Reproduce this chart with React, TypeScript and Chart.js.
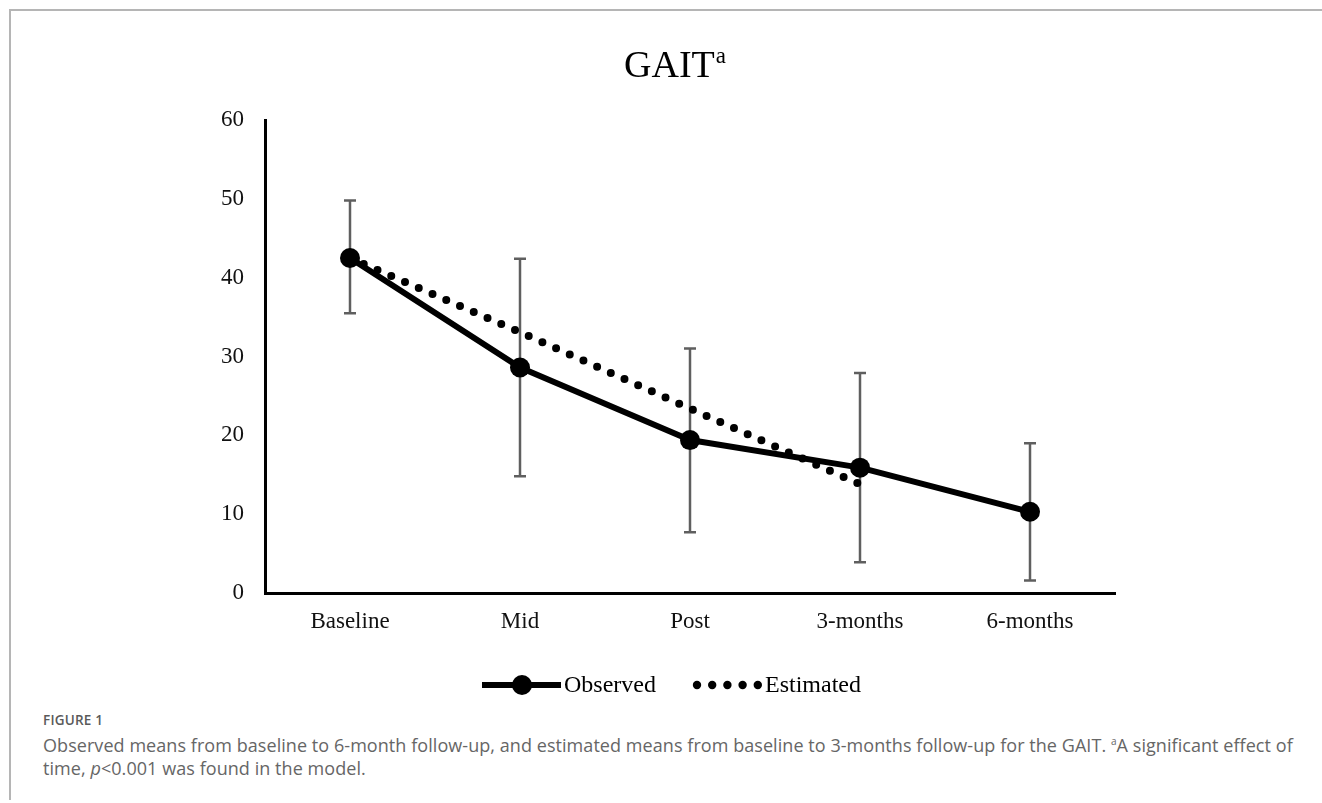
import React, { useEffect, useRef } from "react";
import { Chart, registerables } from "chart.js";

Chart.register(...registerables);

const categories = ["Baseline", "Mid", "Post", "3-months", "6-months"];
const observed = [42.5, 28.6, 19.4, 15.9, 10.3];
const observedHigh = [49.8, 42.4, 31.0, 27.9, 19.0];
const observedLow = [35.5, 14.8, 7.7, 3.9, 1.6];
const estimated: (number | null)[] = [42.5, 33.1, 23.4, 13.8, null];
const yMin = 0;
const yMax = 60;
const yStep = 10;
const titleMain = "GAIT";
const titleSup = "a";

const SERIF = '"Liberation Serif", "Times New Roman", serif';

const errorBarPlugin = {
  id: "errorBars",
  beforeDatasetsDraw(chart: any) {
    const { ctx, scales } = chart;
    const xs = scales.x;
    const ys = scales.y;
    ctx.save();
    ctx.strokeStyle = "#5f5f5f";
    ctx.lineWidth = 2.5;
    observed.forEach((_, i) => {
      const x = xs.getPixelForValue(i);
      const yt = ys.getPixelForValue(observedHigh[i]);
      const yb = ys.getPixelForValue(observedLow[i]);
      ctx.beginPath();
      ctx.moveTo(x, yt);
      ctx.lineTo(x, yb);
      ctx.moveTo(x - 6, yt);
      ctx.lineTo(x + 6, yt);
      ctx.moveTo(x - 6, yb);
      ctx.lineTo(x + 6, yb);
      ctx.stroke();
    });
    ctx.restore();
  },
};

const titlePlugin = {
  id: "supTitle",
  afterDraw(chart: any) {
    const { ctx } = chart;
    ctx.save();
    ctx.fillStyle = "#000";
    ctx.textBaseline = "alphabetic";
    ctx.textAlign = "left";
    ctx.font = `38px ${SERIF}`;
    const w1 = ctx.measureText(titleMain).width;
    ctx.font = `23px ${SERIF}`;
    const w2 = ctx.measureText(titleSup).width;
    const cx = 675;
    const x0 = cx - (w1 + w2 + 1) / 2;
    ctx.font = `38px ${SERIF}`;
    ctx.fillText(titleMain, x0, 77);
    ctx.font = `23px ${SERIF}`;
    ctx.fillText(titleSup, x0 + w1 + 1, 63);
    ctx.restore();
  },
};

const legendPlugin = {
  id: "customLegend",
  afterDraw(chart: any) {
    const { ctx } = chart;
    const y = 685;
    const ds0 = chart.data.datasets[0];
    const ds1 = chart.data.datasets[1];
    ctx.save();
    // Observed sample
    ctx.strokeStyle = "#000";
    ctx.lineWidth = 6;
    ctx.lineCap = "butt";
    ctx.beginPath();
    ctx.moveTo(482, y);
    ctx.lineTo(561, y);
    ctx.stroke();
    ctx.fillStyle = "#000";
    ctx.beginPath();
    ctx.arc(522, y, 10, 0, Math.PI * 2);
    ctx.fill();
    ctx.font = `24px ${SERIF}`;
    ctx.textBaseline = "middle";
    ctx.textAlign = "left";
    ctx.fillText(ds0.label, 564, y + 1);
    // Estimated sample
    for (let k = 0; k < 5; k++) {
      ctx.beginPath();
      ctx.arc(697 + k * 15.2, y, 4.2, 0, Math.PI * 2);
      ctx.fill();
    }
    ctx.fillText(ds1.label, 765, y + 1);
    ctx.restore();
  },
};

function ChartView() {
  const ref = useRef<HTMLCanvasElement | null>(null);
  useEffect(() => {
    if (!ref.current) return;
    const chart = new Chart(ref.current, {
      type: "line",
      data: {
        labels: categories,
        datasets: [
          {
            label: "Observed",
            data: observed,
            borderColor: "#000",
            backgroundColor: "#000",
            borderWidth: 6,
            pointRadius: 10,
            pointHoverRadius: 10,
            pointBackgroundColor: "#000",
            pointBorderWidth: 0,
            tension: 0,
            borderJoinStyle: "round",
          },
          {
            label: "Estimated",
            data: estimated,
            borderColor: "#000",
            backgroundColor: "#000",
            borderWidth: 8,
            borderDash: [0, 15],
            borderCapStyle: "round",
            pointRadius: 0,
            tension: 0,
            spanGaps: false,
          },
        ],
      },
      options: {
        responsive: false,
        animation: false,
        events: [],
        layout: { padding: { top: 120, left: 0, right: 207, bottom: 0 } },
        plugins: {
          legend: { display: false },
          title: { display: false },
          tooltip: { enabled: false },
        },
        scales: {
          x: {
            type: "category",
            offset: true,
            grid: { display: false, drawTicks: false },
            border: { display: true, color: "#000", width: 3 },
            ticks: {
              color: "#111",
              font: { family: SERIF, size: 23 },
              padding: 15,
              maxRotation: 0,
            },
            afterFit(scale: any) {
              scale.height = 710 - 593;
            },
          },
          y: {
            min: yMin,
            max: yMax,
            grid: { display: false, drawTicks: false },
            border: { display: true, color: "#000", width: 3 },
            ticks: {
              stepSize: yStep,
              color: "#111",
              font: { family: SERIF, size: 23 },
              padding: 21,
            },
            afterFit(scale: any) {
              scale.width = 265;
            },
          },
        },
      },
      plugins: [errorBarPlugin, titlePlugin, legendPlugin],
    } as any);
    return () => chart.destroy();
  }, []);
  return (
    <canvas
      ref={ref}
      width={1322}
      height={710}
      style={{ position: "absolute", left: 0, top: 0, width: 1322, height: 710 }}
    />
  );
}

export default function App() {
  return (
    <div
      style={{
        position: "fixed",
        left: 0,
        top: 0,
        width: 1322,
        height: 803,
        background: "#fff",
        overflow: "hidden",
      }}
    >
      <div
        style={{
          position: "absolute",
          left: 9,
          top: 9,
          right: 0,
          height: 0,
          borderTop: "2px solid #b5b5b5",
        }}
      />
      <div
        style={{
          position: "absolute",
          left: 9,
          top: 9,
          width: 0,
          height: 791,
          borderLeft: "2px solid #b5b5b5",
        }}
      />
      <ChartView />
      <div
        style={{
          position: "absolute",
          left: 43,
          top: 711,
          fontFamily: '"Open Sans", "Noto Sans", sans-serif',
          color: "#5a5a5a",
          whiteSpace: "nowrap",
        }}
      >
        <div style={{ fontSize: 13.5, fontWeight: 600, lineHeight: "19px", letterSpacing: 0.2 }}>
          FIGURE 1
        </div>
        <div style={{ fontSize: 18, lineHeight: "23px", color: "#666", letterSpacing: 0.06 }}>
          Observed means from baseline to 6-month follow-up, and estimated means from baseline to
          3-months follow-up for the GAIT. <sup style={{ fontSize: 10, verticalAlign: "7px" }}>a</sup>A
          significant effect of
          <br />
          time, <i>p</i>&lt;0.001 was found in the model.
        </div>
      </div>
    </div>
  );
}
